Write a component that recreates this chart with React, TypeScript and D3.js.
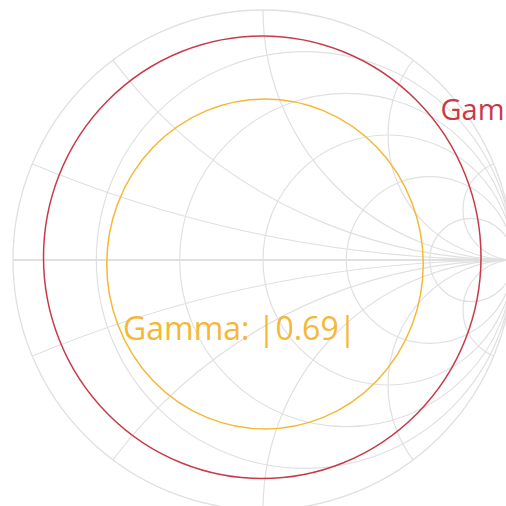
import React from 'react';
import * as d3 from 'd3';

// grid values of the Smith chart
const resistanceTicks = [0.2, 0.5, 1, 2, 5];
const reactanceTicks = [0.2, 0.5, 1, 2, 5, -0.2, -0.5, -1, -2, -5];

// gamma traces (centre and radii in reflection-coefficient units)
const traceNames = ['Gamma: |0.88|', 'Gamma: |0.69|'];
const traceColors = ['#c83a48', '#f5b836'];
const traceCx = [-0.003, 0.008];
const traceCy = [0.011, -0.016];
const traceRx = [0.875, 0.633];
const traceRy = [0.885, 0.66];
const labelRe = [0.71, -0.56];
const labelIm = [0.56, -0.32];
const labelSize = [29, 32];

const W = 506;
const H = 506;
const cx = 263;
const cy = 260;
const R = 250;

const App = () => {
  const x = d3.scaleLinear().domain([-1, 1]).range([cx - R, cx + R]);
  const y = d3.scaleLinear().domain([-1, 1]).range([cy + R, cy - R]);
  const k = (v: number) => x(v) - x(0);

  const grid = '#e0e0e0';

  return (
    <svg width={W} height={H} style={{ position: 'absolute', left: 0, top: 0, background: '#fff' }}>
      <defs>
        <clipPath id="unit">
          <circle cx={x(0)} cy={y(0)} r={k(1)} />
        </clipPath>
      </defs>
      <g clipPath="url(#unit)" fill="none" stroke={grid} strokeWidth={1.2}>
        {resistanceTicks.map(r => (
          <circle key={'r' + r} cx={x(r / (1 + r))} cy={y(0)} r={k(1 / (1 + r))} />
        ))}
        {reactanceTicks.map(v => (
          <circle key={'x' + v} cx={x(1)} cy={y(1 / v)} r={k(Math.abs(1 / v))} />
        ))}
      </g>
      <line x1={x(-1)} x2={x(1)} y1={y(0)} y2={y(0)} stroke={grid} strokeWidth={1.8} />
      <circle cx={x(0)} cy={y(0)} r={k(1)} fill="none" stroke={grid} strokeWidth={1.3} />
      {traceNames.map((n, i) => (
        <ellipse
          key={'e' + i}
          cx={x(traceCx[i])}
          cy={y(traceCy[i])}
          rx={k(traceRx[i])}
          ry={k(traceRy[i])}
          fill="none"
          stroke={traceColors[i]}
          strokeWidth={1.5}
        />
      ))}
      {traceNames.map((n, i) => (
        <text
          key={'t' + i}
          x={x(labelRe[i])}
          y={y(labelIm[i])}
          fill={traceColors[i]}
          fontFamily="'Open Sans', sans-serif"
          fontWeight={500}
          fontSize={labelSize[i]}
        >
          {n}
        </text>
      ))}
    </svg>
  );
};

export default App;
